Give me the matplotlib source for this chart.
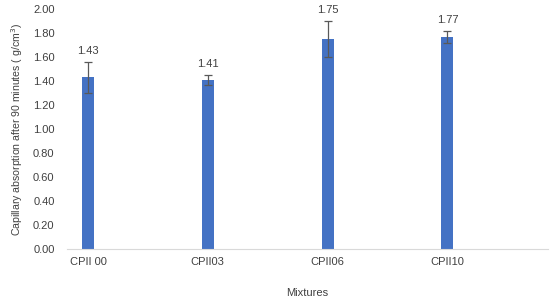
import matplotlib.pyplot as plt

plt.rcParams['font.family'] = ['Liberation Sans', 'DejaVu Sans']

mixtures = ['CPII 00', 'CPII03', 'CPII06', 'CPII10']
absorption = [1.43, 1.41, 1.75, 1.77]
errors = [0.13, 0.04, 0.15, 0.05]

fig = plt.figure(figsize=(5.5, 3.01), dpi=100)
ax = fig.add_axes([67/550, 52/301, 481/550, 240/301])

x = list(range(len(mixtures)))
ax.bar(x, absorption, width=0.1, color='#4472C4', zorder=2)
ax.errorbar(x, absorption, yerr=errors, fmt='none', ecolor='#595959',
            elinewidth=0.9, capsize=3, capthick=0.9, zorder=3)

# value labels just above the error bar caps
for xi, v, e in zip(x, absorption, errors):
    ax.annotate(f'{v:.2f}', (xi, v + e), xytext=(0, 4), textcoords='offset points',
                ha='center', va='bottom', fontsize=8, color='#404040')

ax.set_xlim(-0.175, 3.84)
ax.set_ylim(0, 2.0)
ax.set_yticks([i * 0.2 for i in range(11)])
ax.set_yticklabels([f'{i * 0.2:.2f}' for i in range(11)])
ax.set_xticks(x)
ax.set_xticklabels(mixtures)
ax.tick_params(length=0, labelsize=8, colors='#404040')
ax.tick_params(axis='x', pad=6)
ax.tick_params(axis='y', pad=9)

for s in ['top', 'right', 'left']:
    ax.spines[s].set_visible(False)
ax.spines['bottom'].set_color('#d9d9d9')

ax.set_ylabel('Capillary absorption after 90 minutes ( g/cm$^3$)', fontsize=7.6,
              color='#404040', labelpad=6)
ax.set_xlabel('Mixtures', fontsize=8, color='#404040', labelpad=15)

fig.savefig('out.png')
